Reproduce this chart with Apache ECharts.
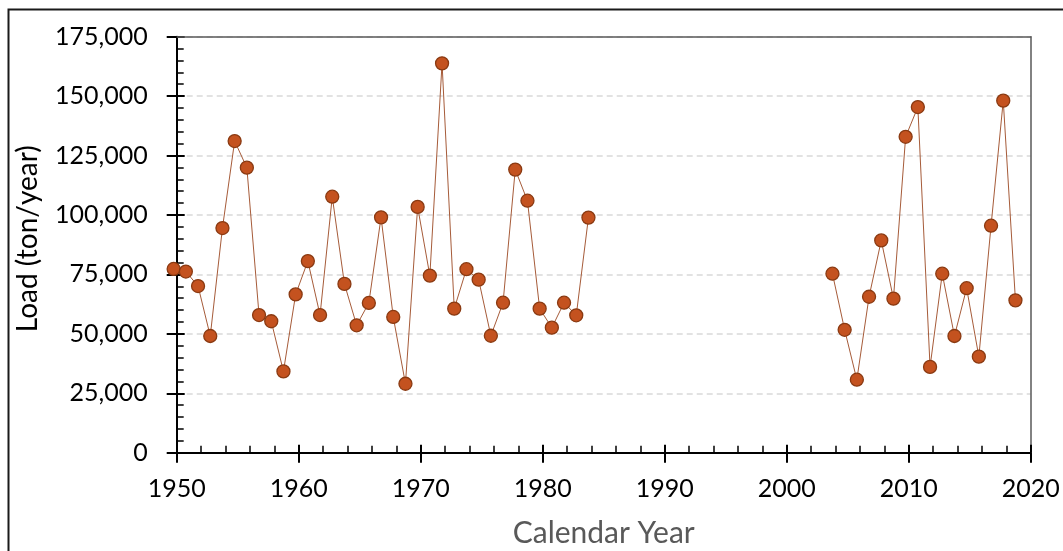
<!DOCTYPE html>
<html>
<head>
<meta charset="utf-8">
<title>Annual Load</title>
<script src="https://cdn.jsdelivr.net/npm/echarts@6/dist/echarts.min.js"></script>
<style>
  html, body { margin: 0; padding: 0; background: #ffffff; }
  #chart { width: 1063px; height: 551px; }
</style>
</head>
<body>
<div id="chart"></div>
<script>
// Water years with records, first period
const yearsEarly = [1950, 1951, 1952, 1953, 1954, 1955, 1956, 1957, 1958, 1959,
  1960, 1961, 1962, 1963, 1964, 1965, 1966, 1967, 1968, 1969,
  1970, 1971, 1972, 1973, 1974, 1975, 1976, 1977, 1978, 1979,
  1980, 1981, 1982, 1983, 1984];
// Annual load (ton/year), first period
const loadEarly = [77300, 76200, 70100, 49100, 94500, 131100, 119900, 57900, 55300, 34200,
  66600, 80600, 57900, 107700, 71000, 53600, 63000, 99000, 57100, 29000,
  103400, 74500, 163800, 60600, 77200, 72800, 49200, 63100, 119100, 106000,
  60600, 52600, 63100, 57800, 98900];

// Water years with records, recent period
const yearsRecent = [2004, 2005, 2006, 2007, 2008, 2009, 2010, 2011, 2012, 2013,
  2014, 2015, 2016, 2017, 2018, 2019];
// Annual load (ton/year), recent period
const loadRecent = [75300, 51700, 30700, 65600, 89300, 64800, 132900, 145400, 36100, 75300,
  49100, 69200, 40400, 95500, 148100, 64100];

// Axis tick values
const xTicks = [1950, 1960, 1970, 1980, 1990, 2000, 2010, 2020];
const yTicks = [0, 25000, 50000, 75000, 100000, 125000, 150000, 175000];

// Each water year starts on 1 October of the previous calendar year
const WATER_YEAR_START = -0.25;

const toPoints = (years, loads) => years.map((y, i) => [y + WATER_YEAR_START, loads[i]]);

const FONT = 'Lato, "Open Sans", sans-serif';
const lineColor = '#A65B39';
const markerFill = '#C4521F';
const markerEdge = '#8A3A12';
const frameColor = '#595959';

const seriesStyle = {
  type: 'line',
  symbol: 'circle',
  symbolSize: 13,
  showSymbol: true,
  clip: false,
  lineStyle: { color: lineColor, width: 1 },
  itemStyle: { color: markerFill, borderColor: markerEdge, borderWidth: 1.3 },
  emphasis: { disabled: true },
  z: 10,
  animation: false
};

const xMin = xTicks[0], xMax = xTicks[xTicks.length - 1], xStep = xTicks[1] - xTicks[0];
const yMin = yTicks[0], yMax = yTicks[yTicks.length - 1], yStep = yTicks[1] - yTicks[0];

// Axis that only draws a plain frame edge
const frameAxis = (position, min, max, step) => ({
  type: 'value', position, min, max, interval: step, z: 5,
  axisLine: { show: true, onZero: false, lineStyle: { color: frameColor, width: 1.5 } },
  axisTick: { show: false }, axisLabel: { show: false }, splitLine: { show: false }
});

// Axis that only draws the outward half of the major ticks
const outerTickAxis = (position, min, max, step) => ({
  type: 'value', position, min, max, interval: step, z: 6,
  axisLine: { show: false },
  axisTick: { show: true, inside: false, length: 10, lineStyle: { color: '#000', width: 2 } },
  axisLabel: { show: false }, splitLine: { show: false }
});

const chart = echarts.init(document.getElementById('chart'), null, { renderer: 'canvas' });

chart.setOption({
  backgroundColor: '#ffffff',
  animation: false,
  textStyle: { fontFamily: FONT },
  graphic: [{
    type: 'rect',
    z: -10,
    shape: { x: 8.5, y: 9.5, width: 1100, height: 600 },
    style: { fill: 'none', stroke: '#1a1a1a', lineWidth: 2 }
  }],
  grid: {
    left: 176.7, right: 32.3, top: 36.7, bottom: 98.3,
    show: false,
    containLabel: false,
    outerBoundsMode: 'none'
  },
  xAxis: [{
    type: 'value',
    min: xMin, max: xMax, interval: xStep,
    name: 'Calendar Year',
    nameLocation: 'middle',
    nameGap: 66,
    nameTextStyle: { color: '#595959', fontSize: 30, fontFamily: FONT },
    axisLine: { show: true, onZero: false, lineStyle: { color: '#000', width: 2 } },
    axisTick: { show: true, inside: true, length: 8, lineStyle: { color: '#000', width: 2 } },
    minorTick: { show: true, splitNumber: 5, length: 7, lineStyle: { color: '#000', width: 1.5 } },
    axisLabel: { color: '#000', fontSize: 25, margin: 24, fontFamily: FONT, formatter: v => String(v) },
    splitLine: { show: false },
    z: 6
  },
  outerTickAxis('bottom', xMin, xMax, xStep),
  frameAxis('top', xMin, xMax, xStep)],
  yAxis: [{
    type: 'value',
    min: yMin, max: yMax, interval: yStep,
    name: 'Load (ton/year)',
    nameLocation: 'middle',
    nameGap: 135,
    nameTextStyle: { color: '#000', fontSize: 28, fontFamily: FONT, padding: [0, 0, 0, 12] },
    axisLine: { show: true, onZero: false, lineStyle: { color: '#000', width: 2 } },
    axisTick: { show: true, inside: true, length: 8, lineStyle: { color: '#000', width: 2 } },
    minorTick: { show: true, splitNumber: 5, length: 7, lineStyle: { color: '#000', width: 1.5 } },
    axisLabel: {
      color: '#000', fontSize: 25, margin: 29, fontFamily: FONT,
      formatter: v => v.toLocaleString('en-US')
    },
    splitLine: { show: true, lineStyle: { color: '#D9D9D9', width: 1.5, type: [6, 4] } },
    z: 2
  },
  outerTickAxis('left', yMin, yMax, yStep),
  frameAxis('right', yMin, yMax, yStep)],
  series: [
    Object.assign({ name: 'Load 1950-1984', data: toPoints(yearsEarly, loadEarly) }, seriesStyle),
    Object.assign({ name: 'Load 2004-2019', data: toPoints(yearsRecent, loadRecent) }, seriesStyle)
  ]
});
</script>
</body>
</html>
